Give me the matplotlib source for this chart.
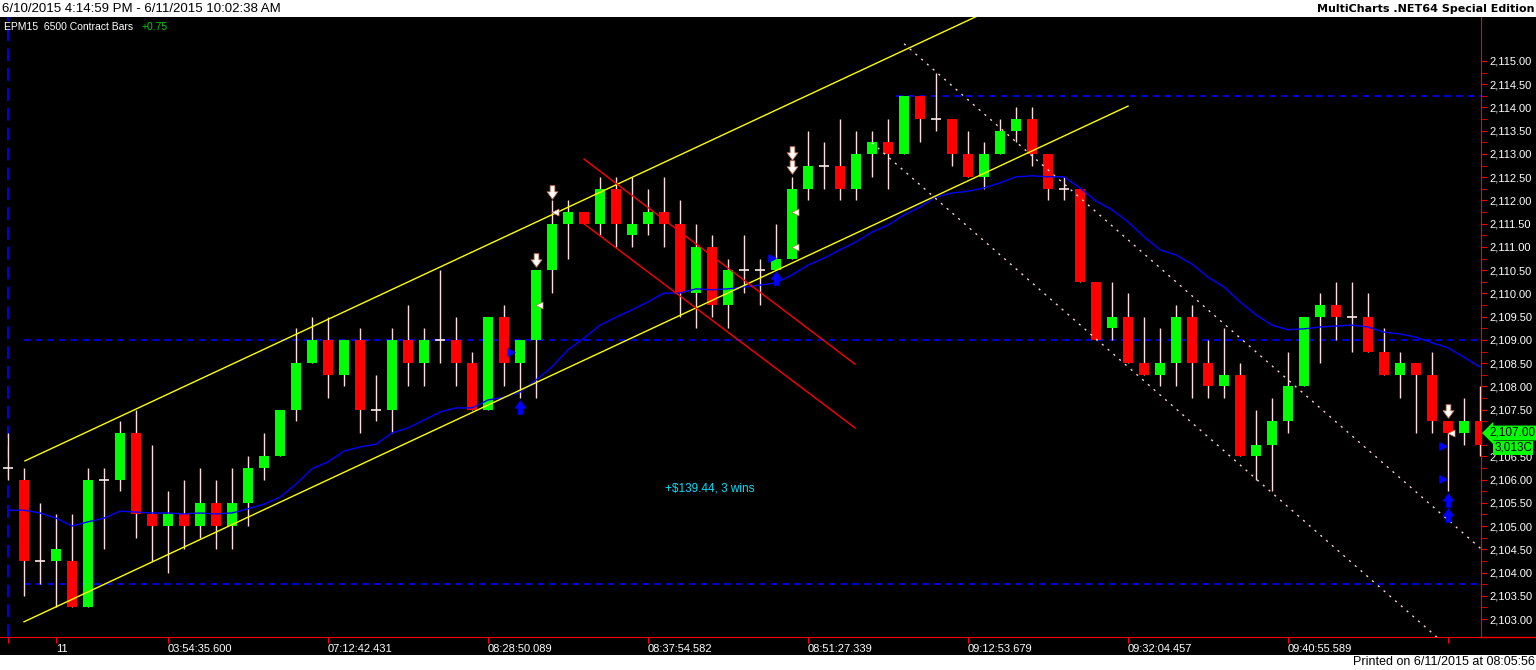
import matplotlib
matplotlib.use("Agg")
import matplotlib.pyplot as plt
import matplotlib.transforms as mtransforms
from matplotlib.path import Path
from matplotlib.lines import Line2D
from matplotlib.patches import Rectangle

# ---- bar data (6500 contract bars, EPM15) ----
opens = [2106.25, 2106.0, 2104.25, 2104.25, 2104.25, 2103.25, 2106.0, 2106.0, 2107.0, 2105.25,
         2105.0, 2105.25, 2105.0, 2105.5, 2105.0, 2105.5, 2106.25, 2106.5, 2107.5, 2108.5,
         2109.0, 2108.25, 2109.0, 2107.5, 2107.5, 2109.0, 2108.5, 2109.0, 2109.0, 2108.5,
         2107.5, 2109.5, 2108.5, 2109.0, 2110.5, 2111.5, 2111.75, 2111.5, 2112.25, 2111.25,
         2111.5, 2111.75, 2111.5, 2110.0, 2111.0, 2109.75, 2110.5, 2110.5, 2110.5, 2110.75,
         2112.25, 2112.75, 2112.75, 2112.25, 2113.0, 2113.25, 2113.0, 2114.25, 2113.75, 2113.75,
         2113.0, 2112.5, 2113.0, 2113.5, 2113.75, 2113.0, 2112.25, 2112.25, 2110.25, 2109.25,
         2109.5, 2108.5, 2108.25, 2108.5, 2109.5, 2108.5, 2108.0, 2108.25, 2106.5, 2106.75,
         2107.25, 2108.0, 2109.5, 2109.75, 2109.5, 2109.5, 2108.75, 2108.25, 2108.5, 2108.25,
         2107.25, 2107.0, 2107.25]
highs = [2107.0, 2106.25, 2105.5, 2105.25, 2105.25, 2106.25, 2106.25, 2107.25, 2107.5, 2106.75,
         2105.75, 2106.0, 2106.25, 2106.0, 2106.25, 2106.5, 2107.0, 2107.5, 2109.25, 2109.5,
         2109.5, 2109.0, 2109.25, 2108.25, 2109.25, 2109.75, 2109.25, 2110.5, 2109.5, 2108.75,
         2109.5, 2109.75, 2109.0, 2110.5, 2112.0, 2112.0, 2111.75, 2112.5, 2112.5, 2112.5,
         2112.25, 2112.5, 2112.0, 2111.5, 2111.25, 2110.75, 2111.25, 2110.75, 2111.5, 2112.5,
         2113.5, 2113.25, 2113.75, 2113.5, 2113.5, 2113.75, 2114.25, 2114.25, 2114.75, 2113.75,
         2113.5, 2113.25, 2113.75, 2114.0, 2114.0, 2113.0, 2112.5, 2112.25, 2110.25, 2110.25,
         2110.0, 2109.5, 2109.25, 2109.75, 2109.75, 2109.0, 2109.25, 2108.5, 2107.5, 2107.75,
         2108.75, 2109.5, 2110.0, 2110.25, 2110.25, 2110.0, 2109.25, 2108.75, 2108.5, 2108.75,
         2107.25, 2107.75, 2108.0]
lows = [2106.0, 2103.5, 2103.75, 2103.25, 2103.25, 2103.25, 2104.5, 2105.75, 2104.75, 2104.25,
        2104.0, 2104.5, 2104.75, 2104.5, 2104.5, 2105.0, 2106.0, 2106.5, 2107.25, 2108.5,
        2107.75, 2108.0, 2107.0, 2107.25, 2107.0, 2108.0, 2108.0, 2108.5, 2108.0, 2107.5,
        2107.5, 2108.0, 2107.75, 2107.75, 2110.0, 2110.75, 2111.5, 2111.25, 2111.0, 2111.0,
        2111.25, 2111.0, 2109.5, 2109.25, 2109.5, 2109.25, 2110.0, 2109.75, 2110.5, 2110.75,
        2112.0, 2112.25, 2112.0, 2112.0, 2112.5, 2112.25, 2113.0, 2113.25, 2113.5, 2112.75,
        2112.5, 2112.25, 2113.0, 2113.25, 2112.75, 2112.0, 2112.0, 2110.25, 2109.0, 2109.0,
        2108.5, 2108.25, 2108.0, 2108.0, 2107.75, 2107.75, 2107.75, 2106.5, 2106.0, 2105.75,
        2107.0, 2108.0, 2108.5, 2109.0, 2108.75, 2108.75, 2108.25, 2107.75, 2107.0, 2107.0,
        2105.75, 2106.75, 2106.5]
closes = [2106.25, 2104.25, 2104.25, 2104.5, 2103.25, 2106.0, 2106.0, 2107.0, 2105.25, 2105.0,
          2105.25, 2105.0, 2105.5, 2105.0, 2105.5, 2106.25, 2106.5, 2107.5, 2108.5, 2109.0,
          2108.25, 2109.0, 2107.5, 2107.5, 2109.0, 2108.5, 2109.0, 2109.0, 2108.5, 2107.5,
          2109.5, 2108.5, 2109.0, 2110.5, 2111.5, 2111.75, 2111.5, 2112.25, 2111.5, 2111.5,
          2111.75, 2111.5, 2110.0, 2111.0, 2109.75, 2110.5, 2110.5, 2110.5, 2110.75, 2112.25,
          2112.75, 2112.75, 2112.25, 2113.0, 2113.25, 2113.0, 2114.25, 2113.75, 2113.75, 2113.0,
          2112.5, 2113.0, 2113.5, 2113.75, 2113.0, 2112.25, 2112.25, 2110.25, 2109.0, 2109.5,
          2108.5, 2108.25, 2108.5, 2109.5, 2108.5, 2108.0, 2108.25, 2106.5, 2106.75, 2107.25,
          2108.0, 2109.5, 2109.75, 2109.5, 2109.5, 2108.75, 2108.25, 2108.5, 2108.25, 2107.25,
          2107.0, 2107.25, 2106.75]

# moving average (blue line)
avg = [2105.34, 2105.34, 2105.28, 2105.17, 2105.00, 2105.09, 2105.17, 2105.32, 2105.30, 2105.28,
       2105.28, 2105.26, 2105.28, 2105.26, 2105.28, 2105.37, 2105.47, 2105.62, 2105.90, 2106.23,
       2106.38, 2106.61, 2106.70, 2106.76, 2107.00, 2107.11, 2107.28, 2107.45, 2107.54, 2107.54,
       2107.71, 2107.77, 2107.88, 2108.14, 2108.42, 2108.79, 2109.04, 2109.32, 2109.49, 2109.65,
       2109.82, 2110.01, 2110.01, 2110.10, 2110.08, 2110.10, 2110.14, 2110.18, 2110.23, 2110.40,
       2110.61, 2110.76, 2110.94, 2111.11, 2111.32, 2111.47, 2111.69, 2111.86, 2112.08, 2112.16,
       2112.20, 2112.27, 2112.38, 2112.51, 2112.53, 2112.51, 2112.51, 2112.27, 2111.99, 2111.80,
       2111.54, 2111.22, 2110.94, 2110.83, 2110.63, 2110.35, 2110.14, 2109.82, 2109.54, 2109.32,
       2109.22, 2109.24, 2109.28, 2109.30, 2109.32, 2109.28, 2109.17, 2109.13, 2109.06, 2108.94,
       2108.83, 2108.63, 2108.42]

# x axis labels
tick_bars = [0, 3, 10, 20, 30, 40, 50, 60, 70, 80, 90]
tick_text = ['', '11', '03:54:35.600', '07:12:42.431', '08:28:50.089', '08:37:54.582',
             '08:51:27.339', '09:12:53.679', '09:32:04.457', '09:40:55.589', '']

# drawings: (bar, price) endpoints
chan_low = [(1.0, 2102.94), (70.0, 2114.03)]
chan_high = [(1.06, 2106.40), (70.0, 2117.48)]
red_a = [(36.0, 2112.89), (52.94, 2108.48)]
red_b = [(36.0, 2111.50), (52.94, 2107.11)]
dot_a = [(56.0, 2115.37), (92.06, 2104.51)]
dot_b = [(54.0, 2113.24), (92.06, 2101.78)]
hlevels = [2114.25, 2109.0, 2103.75]
hstart = [55.5, 1.0, 1.0]

# trade markers
sell_x = [33, 34, 49, 49, 90]
sell_y = [2110.72, 2112.18, 2113.02, 2112.72, 2107.47]
buy_x = [32, 48, 90, 90]
buy_y = [2107.56, 2110.33, 2105.56, 2105.24]
blue_tri_x = [31.44, 47.75, 89.69, 89.69]
blue_tri_y = [2108.74, 2110.76, 2106.72, 2106.01]
exit_tri_x = [33.19, 34.19, 49.19, 49.19, 90.19]
exit_tri_y = [2109.75, 2111.75, 2111.75, 2111.0, 2107.0]

# scale flags
last_price = 2107.00
volume_flag = '3,013C'

W, H = 1536, 670
fig = plt.figure(figsize=(W / 100, H / 100), dpi=100, facecolor='white')
fig.patches.append(Rectangle((0, 15 / H), 1, 638 / H, transform=fig.transFigure,
                             facecolor='black', edgecolor='none', zorder=-10))
ax = fig.add_axes([0, 33 / H, 1481 / W, 620 / H], facecolor='black')
ax.set_zorder(1)
ax.set_xlim(-0.5, 92.06)
ax.set_ylim(2102.613, 2115.946)

# wicks and bodies
n = len(opens)
xs = list(range(n))
ax.vlines(xs, lows, highs, colors='#ffdcdc', lw=1, zorder=2)
for i in xs:
    o, c = opens[i], closes[i]
    if o == c:
        ax.hlines(o, i - 0.32, i + 0.32, colors='#ffe8e8', lw=1.2, zorder=3)
    else:
        col = '#00ff00' if c > o else '#ff0000'
        ax.bar(i, abs(c - o), bottom=min(o, c), width=0.58, color=col,
               edgecolor='none', zorder=3)

ax.plot(xs, avg, color='#0000ff', lw=1, zorder=4)

for lev, st in zip(hlevels, hstart):
    ax.hlines(lev, st, 92.06, colors='#0000ff', linestyles=(0, (4, 3)), lw=1.2, zorder=1)
ax.axvline(0, color='#0000ff', ls=(0, (7, 4)), lw=1.3, zorder=1)

for seg, col, ls in [(chan_low, 'yellow', '-'), (chan_high, 'yellow', '-'),
                     (red_a, 'red', '-'), (red_b, 'red', '-'),
                     (dot_a, '#ffd4d4', (0, (1.5, 4))), (dot_b, '#ffd4d4', (0, (1.5, 4)))]:
    ax.plot([seg[0][0], seg[1][0]], [seg[0][1], seg[1][1]], color=col, lw=1, ls=ls, zorder=5)

# arrow markers
dn = Path([(-0.35, 1), (0.35, 1), (0.35, 0.1), (0.8, 0.1), (0, -1), (-0.8, 0.1),
           (-0.35, 0.1), (-0.35, 1)], closed=True)
up = Path([(x, -y) for x, y in dn.vertices], closed=True)
ax.scatter(sell_x, sell_y, marker=dn, s=95, facecolor='white', edgecolor='#c07050',
           lw=0.6, zorder=6)
ax.scatter(buy_x, buy_y, marker=up, s=95, facecolor='#0000ff', edgecolor='#0000ff',
           lw=0.5, zorder=6)
ax.scatter(blue_tri_x, blue_tri_y, marker='>', s=26, color='#0000ff', zorder=6)
ax.scatter(exit_tri_x, exit_tri_y, marker='<', s=26, facecolor='white',
           edgecolor='#c07050', lw=0.5, zorder=6)

ax.text(41.06, 2105.80, '+$139.44, 3 wins', color='#00e0ff', fontsize=8.5,
        family='Liberation Sans', va='center', ha='left', zorder=7)

# axes styling
for s in ['top', 'left']:
    ax.spines[s].set_visible(False)
ax.spines['right'].set_color('red')
ax.spines['bottom'].set_color('red')
fig.add_artist(Line2D([1481 / W, 1], [33 / H, 33 / H], color='red', lw=1,
                      transform=fig.transFigure))

ax.yaxis.tick_right()
yt = [2103.0 + 0.5 * k for k in range(25)]
ax.set_yticks(yt)
# the last-price flag stands in for its own scale label
ax.set_yticklabels(['' if v == last_price else f'{v:,.2f}' for v in yt])
ax.set_yticks([2103.25 + 0.5 * k for k in range(24)], minor=True)
ax.tick_params(axis='y', which='both', colors='red', labelcolor='white', length=4,
               labelsize=8, pad=2)
for lb in ax.get_yticklabels():
    lb.set_family('Liberation Sans')

ax.set_xticks(tick_bars)
ax.set_xticklabels(tick_text)
ax.tick_params(axis='x', colors='red', labelcolor='white', length=4, labelsize=8, pad=1)
for lb in ax.get_xticklabels():
    lb.set_ha('left')
    lb.set_family('Liberation Sans')

# price flags on the scale
blend = mtransforms.blended_transform_factory(ax.transAxes, ax.transData)
ax.text(1.006, last_price, f'{last_price:,.2f}', transform=blend, fontsize=8.5,
        family='Liberation Sans', color='black', va='center', ha='left', clip_on=False,
        bbox=dict(boxstyle='larrow,pad=0.12', fc='#00ff00', ec='none'), zorder=8)
ax.text(1.0345, 2106.68, volume_flag, transform=blend, fontsize=8.5,
        family='Liberation Sans', color='black', va='center', ha='right', clip_on=False,
        bbox=dict(boxstyle='square,pad=0.08', fc='#00ff00', ec='none'), zorder=8)

# header / footer
fig.text(0.001, 1 - 8.5 / H, '6/10/2015 4:14:59 PM - 6/11/2015 10:02:38 AM',
         fontsize=9.5, family='Liberation Sans', va='center', ha='left')
fig.text(0.999, 1 - 8.5 / H, 'MultiCharts .NET64 Special Edition', fontsize=8,
         family='DejaVu Sans', weight='bold', va='center', ha='right')
fig.text(4 / W, 1 - 27 / H, 'EPM15  6500 Contract Bars', fontsize=7.5,
         family='Liberation Sans', color='white', va='center', ha='left', zorder=5)
fig.text(142 / W, 1 - 27 / H, '+0.75', fontsize=7.5, family='Liberation Sans',
         color='#00d000', va='center', ha='left', zorder=5)
fig.text(0.999, 1 - 662 / H, 'Printed on 6/11/2015 at 08:05:56', fontsize=9,
         family='Liberation Sans', va='center', ha='right')

fig.savefig('out.png', dpi=100, facecolor='white')
